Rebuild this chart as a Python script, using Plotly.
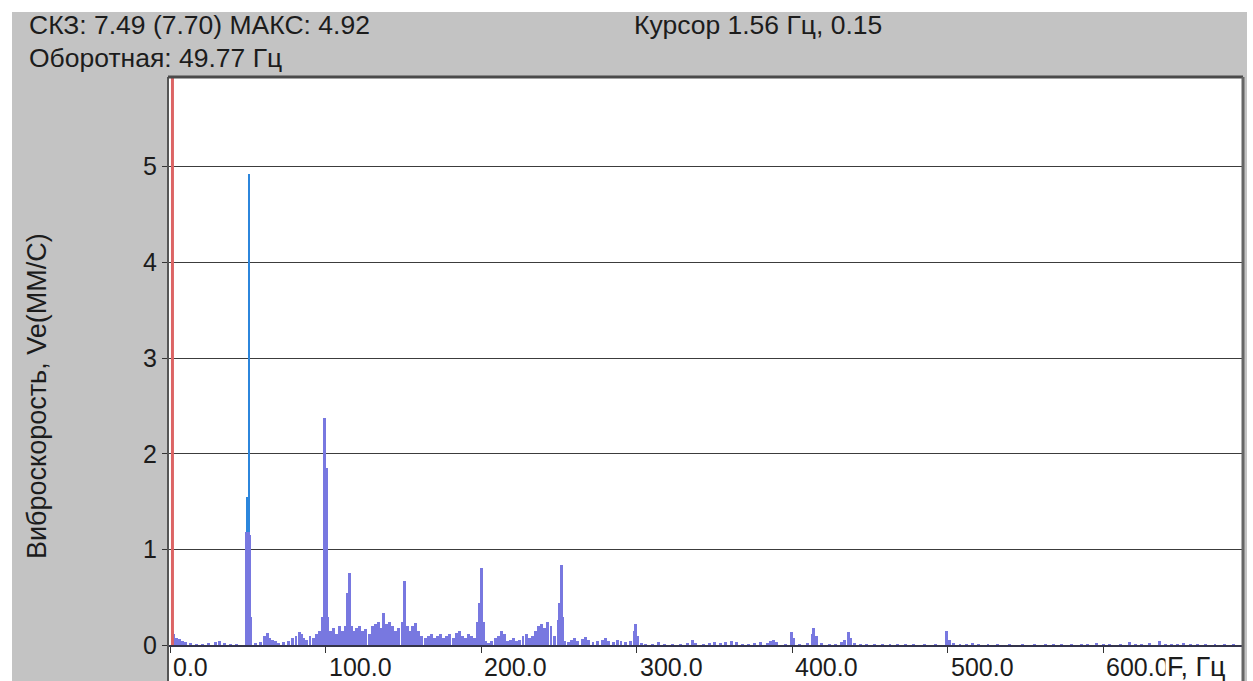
import plotly.graph_objects as go

# ---- spectrum data (Hz, mm/s) ----
freq_hz = [
    1.56, 2.5, 4.0, 6.0, 8.0, 10.0, 13.0, 17.0, 21.0, 25.0, 29.0, 32.0, 35.0, 39.0, 43.0,
    48.9, 49.4, 50.2, 51.0, 51.8,
    55.0, 58.0, 61.0, 62.5, 64.0, 66.0, 68.0, 70.0, 73.0, 76.0, 79.0, 81.0, 83.0, 84.5,
    86.0, 88.0, 90.0, 92.0, 94.0, 96.0, 98.0,
    99.5, 100.6, 101.5,
    103.0, 105.0, 107.0, 109.0, 111.0, 113.0, 114.3, 115.3, 116.5, 118.0, 120.0, 122.0,
    124.0, 126.0, 128.0, 130.0, 132.0, 134.0, 136.0, 137.5, 139.0, 141.0, 143.0, 145.0,
    147.0, 149.5, 150.8, 152.5, 154.0, 156.0, 158.0, 160.0, 162.0, 164.0, 166.0, 168.0,
    170.0, 172.0, 174.0, 176.0, 178.0, 180.0, 182.0, 184.0, 186.0, 188.0, 190.0, 192.0,
    194.0, 196.0, 198.0, 199.3, 200.3, 201.5, 203.0, 205.0, 207.0, 209.0, 211.0, 213.0,
    215.0, 217.0, 219.0, 221.0, 223.0, 225.0, 227.0, 229.0, 231.0, 233.0, 235.0, 237.0,
    239.0, 241.0, 243.0, 245.0, 247.0, 249.5, 250.5, 251.5, 252.5, 254.0,
    256.0, 258.0, 260.0, 262.0, 265.0, 267.0, 269.0, 272.0, 275.0, 278.0, 280.0, 282.0,
    285.0, 288.0, 290.0, 293.0, 296.0, 298.5, 299.5, 300.5, 303.0, 306.0, 310.0, 314.0,
    318.0, 323.0, 328.0, 333.0, 336.0, 338.0, 343.0, 347.0, 350.0, 354.0, 357.0, 361.0,
    364.0, 368.0, 372.0, 376.0, 380.0, 384.0, 386.0, 388.0, 390.0, 396.0, 399.5, 401.0,
    405.0, 410.0, 413.0, 414.0, 415.5, 419.0, 424.0, 428.0, 432.0, 434.0, 436.0, 437.5,
    440.0, 444.0, 448.0, 453.0, 458.0, 463.0, 468.0, 473.0, 478.0, 485.0, 492.0, 499.5,
    501.0, 504.0, 508.0, 512.0, 516.0, 520.0, 526.0, 532.0, 540.0, 548.0, 556.0, 563.0,
    568.0, 573.0, 580.0, 586.0, 590.0, 596.0, 600.0, 604.0, 611.0, 617.0, 621.0, 625.0,
    630.0, 636.0, 640.0, 644.0, 648.0, 652.0, 656.0, 661.0, 666.0, 672.0, 678.0, 684.0,
]
amp_mm_s = [
    0.15, 0.12, 0.08, 0.07, 0.05, 0.04, 0.03, 0.02, 0.02, 0.03, 0.04, 0.05, 0.03, 0.02, 0.02,
    0.30, 1.18, 1.18, 1.15, 0.30,
    0.03, 0.04, 0.10, 0.13, 0.08, 0.06, 0.05, 0.03, 0.04, 0.05, 0.08, 0.10, 0.14, 0.12,
    0.08, 0.06, 0.10, 0.08, 0.12, 0.15, 0.30,
    2.37, 1.85, 0.30,
    0.15, 0.18, 0.12, 0.20, 0.15, 0.20, 0.55, 0.76, 0.20, 0.15, 0.18, 0.20,
    0.15, 0.17, 0.12, 0.20, 0.22, 0.25, 0.18, 0.34, 0.22, 0.25, 0.20, 0.15,
    0.18, 0.25, 0.67, 0.20, 0.15, 0.20, 0.23, 0.15, 0.10, 0.08, 0.10, 0.12,
    0.08, 0.10, 0.12, 0.08, 0.10, 0.12, 0.08, 0.13, 0.15, 0.10, 0.08, 0.12,
    0.10, 0.08, 0.25, 0.44, 0.81, 0.25, 0.05, 0.03, 0.05, 0.08, 0.10, 0.15,
    0.12, 0.05, 0.06, 0.08, 0.05, 0.06, 0.10, 0.12, 0.08, 0.10, 0.15, 0.20,
    0.22, 0.18, 0.25, 0.20, 0.10, 0.27, 0.44, 0.84, 0.30, 0.05,
    0.04, 0.06, 0.08, 0.05, 0.07, 0.09, 0.06, 0.04, 0.05, 0.06, 0.08, 0.05,
    0.04, 0.06, 0.05, 0.04, 0.05, 0.15, 0.22, 0.10, 0.03, 0.02, 0.02, 0.04,
    0.02, 0.02, 0.02, 0.03, 0.06, 0.03, 0.02, 0.03, 0.04, 0.03, 0.04, 0.05,
    0.04, 0.02, 0.02, 0.03, 0.04, 0.03, 0.05, 0.06, 0.04, 0.02, 0.14, 0.08,
    0.02, 0.03, 0.12, 0.18, 0.10, 0.03, 0.02, 0.02, 0.04, 0.06, 0.14, 0.08,
    0.03, 0.02, 0.02, 0.02, 0.02, 0.02, 0.02, 0.02, 0.02, 0.02, 0.02, 0.15,
    0.06, 0.03, 0.02, 0.02, 0.03, 0.02, 0.02, 0.02, 0.01, 0.02, 0.01, 0.02,
    0.02, 0.02, 0.02, 0.01, 0.02, 0.03, 0.02, 0.02, 0.02, 0.04, 0.02, 0.02,
    0.03, 0.05, 0.02, 0.02, 0.02, 0.03, 0.02, 0.02, 0.02, 0.02, 0.02, 0.02,
]

# bins around the rotational frequency shown in the highlight colour
peak_freq_hz = [49.6, 50.6]
peak_amp_mm_s = [1.55, 4.92]

cursor_hz = 1.56
cursor_amp = 0.15

x_ticks = [0, 100, 200, 300, 400, 500, 600]
y_ticks = [0, 1, 2, 3, 4, 5]

header_left = "СКЗ: 7.49 (7.70) МАКС: 4.92"
header_rot = "Оборотная: 49.77 Гц"
header_cursor = f"Курсор {cursor_hz} Гц, {cursor_amp}"
y_title = "Виброскорость, Ve(ММ/С)"
x_title = "F, Гц"

# ---- geometry (pixels) ----
FIG_W, FIG_H = 1253, 681
L, R, T, B = 168, 1243, 77, 681
PW, PH = R - L, B - T
X_RANGE = [-1.3, 690.0]
Y_RANGE = [-0.371, 5.934]


def px_x(p):
    return (p - L) / PW


def px_y(p):
    return (B - p) / PH


FONT = "Arial, Liberation Sans, sans-serif"
TXT = "#1c1c1c"
GRAY = "#c3c3c3"

fig = go.Figure()

fig.add_trace(go.Bar(
    x=peak_freq_hz, y=peak_amp_mm_s, width=[2.0, 1.3],
    marker=dict(color="#2c86dc", line=dict(width=0)),
    hoverinfo="x+y", showlegend=False,
))
fig.add_trace(go.Bar(
    x=freq_hz, y=amp_mm_s, width=1.9,
    marker=dict(color="#7878e0", line=dict(width=0)),
    hoverinfo="x+y", showlegend=False,
))
fig.add_trace(go.Scatter(
    x=[cursor_hz, cursor_hz], y=[0, Y_RANGE[1]], mode="lines",
    line=dict(color="#dc6464", width=3), hoverinfo="skip", showlegend=False,
))

shapes = [
    # white strips around the grey panel
    dict(type="rect", xref="paper", yref="paper", x0=px_x(0), x1=px_x(FIG_W),
         y0=px_y(12), y1=px_y(0), fillcolor="white", line=dict(width=0), layer="below"),
    dict(type="rect", xref="paper", yref="paper", x0=px_x(0), x1=px_x(12),
         y0=px_y(FIG_H), y1=px_y(0), fillcolor="white", line=dict(width=0), layer="below"),
    dict(type="rect", xref="paper", yref="paper", x0=px_x(1247), x1=px_x(FIG_W),
         y0=px_y(FIG_H), y1=px_y(0), fillcolor="white", line=dict(width=0), layer="below"),
    # frame of the plotting area
    dict(type="line", xref="paper", yref="paper", x0=0, x1=0, y0=0, y1=1,
         line=dict(color="#555555", width=2), layer="above"),
    dict(type="line", xref="paper", yref="paper", x0=0, x1=1, y0=1, y1=1,
         line=dict(color="#4a4a4a", width=3), layer="above"),
    dict(type="line", xref="paper", yref="paper", x0=1, x1=1, y0=0, y1=1,
         line=dict(color="#666666", width=3), layer="above"),
]

HEAD = dict(family=FONT, size=26.5, color=TXT)
annotations = [
    dict(text=header_left, x=px_x(27), y=px_y(25), xref="paper", yref="paper",
         xanchor="left", yanchor="middle", showarrow=False, font=HEAD),
    dict(text=header_rot, x=px_x(27), y=px_y(58), xref="paper", yref="paper",
         xanchor="left", yanchor="middle", showarrow=False, font=HEAD),
    dict(text=header_cursor, x=px_x(632), y=px_y(25), xref="paper", yref="paper",
         xanchor="left", yanchor="middle", showarrow=False, font=HEAD),
    dict(text=y_title, x=px_x(37), y=px_y(396), xref="paper", yref="paper",
         xanchor="center", yanchor="middle", textangle=-90, showarrow=False,
         font=dict(family=FONT, size=27, color=TXT)),
]
for v in x_ticks:
    annotations.append(dict(
        text=f"{v:.1f}", x=v, y=px_y(667), xref="x", yref="paper",
        xanchor="left", yanchor="middle", xshift=1, showarrow=False,
        font=dict(family=FONT, size=25, color=TXT)))
# axis caption sits on a white box that clips the end of the last tick label
annotations.append(dict(
    text=x_title, x=px_x(1227.5), y=px_y(667), xref="paper", yref="paper",
    xanchor="right", yanchor="middle", showarrow=False, bgcolor="white",
    borderpad=1, font=dict(family=FONT, size=27, color=TXT)))

fig.update_layout(
    width=FIG_W, height=FIG_H,
    margin=dict(l=L, r=FIG_W - R, t=T, b=FIG_H - B, pad=0, autoexpand=False),
    paper_bgcolor=GRAY, plot_bgcolor="white",
    barmode="overlay", bargap=0,
    showlegend=False,
    shapes=shapes, annotations=annotations,
    xaxis=dict(
        range=X_RANGE, anchor="free", position=px_y(645.5),
        showgrid=False, zeroline=False, showticklabels=False,
        tickvals=x_ticks, ticks="outside", ticklen=6, tickwidth=1, tickcolor="#333333",
        showline=True, linecolor="#34344a", linewidth=2, automargin=False,
    ),
    yaxis=dict(
        range=Y_RANGE, tickvals=y_ticks, ticktext=[str(v) for v in y_ticks],
        showgrid=True, gridcolor="#3c3c3c", gridwidth=1, zeroline=False,
        ticks="outside", ticklen=5, tickwidth=1, tickcolor="#333333",
        showline=False, automargin=False,
        tickfont=dict(family=FONT, size=25, color=TXT),
    ),
)

fig.write_html("out.html")
